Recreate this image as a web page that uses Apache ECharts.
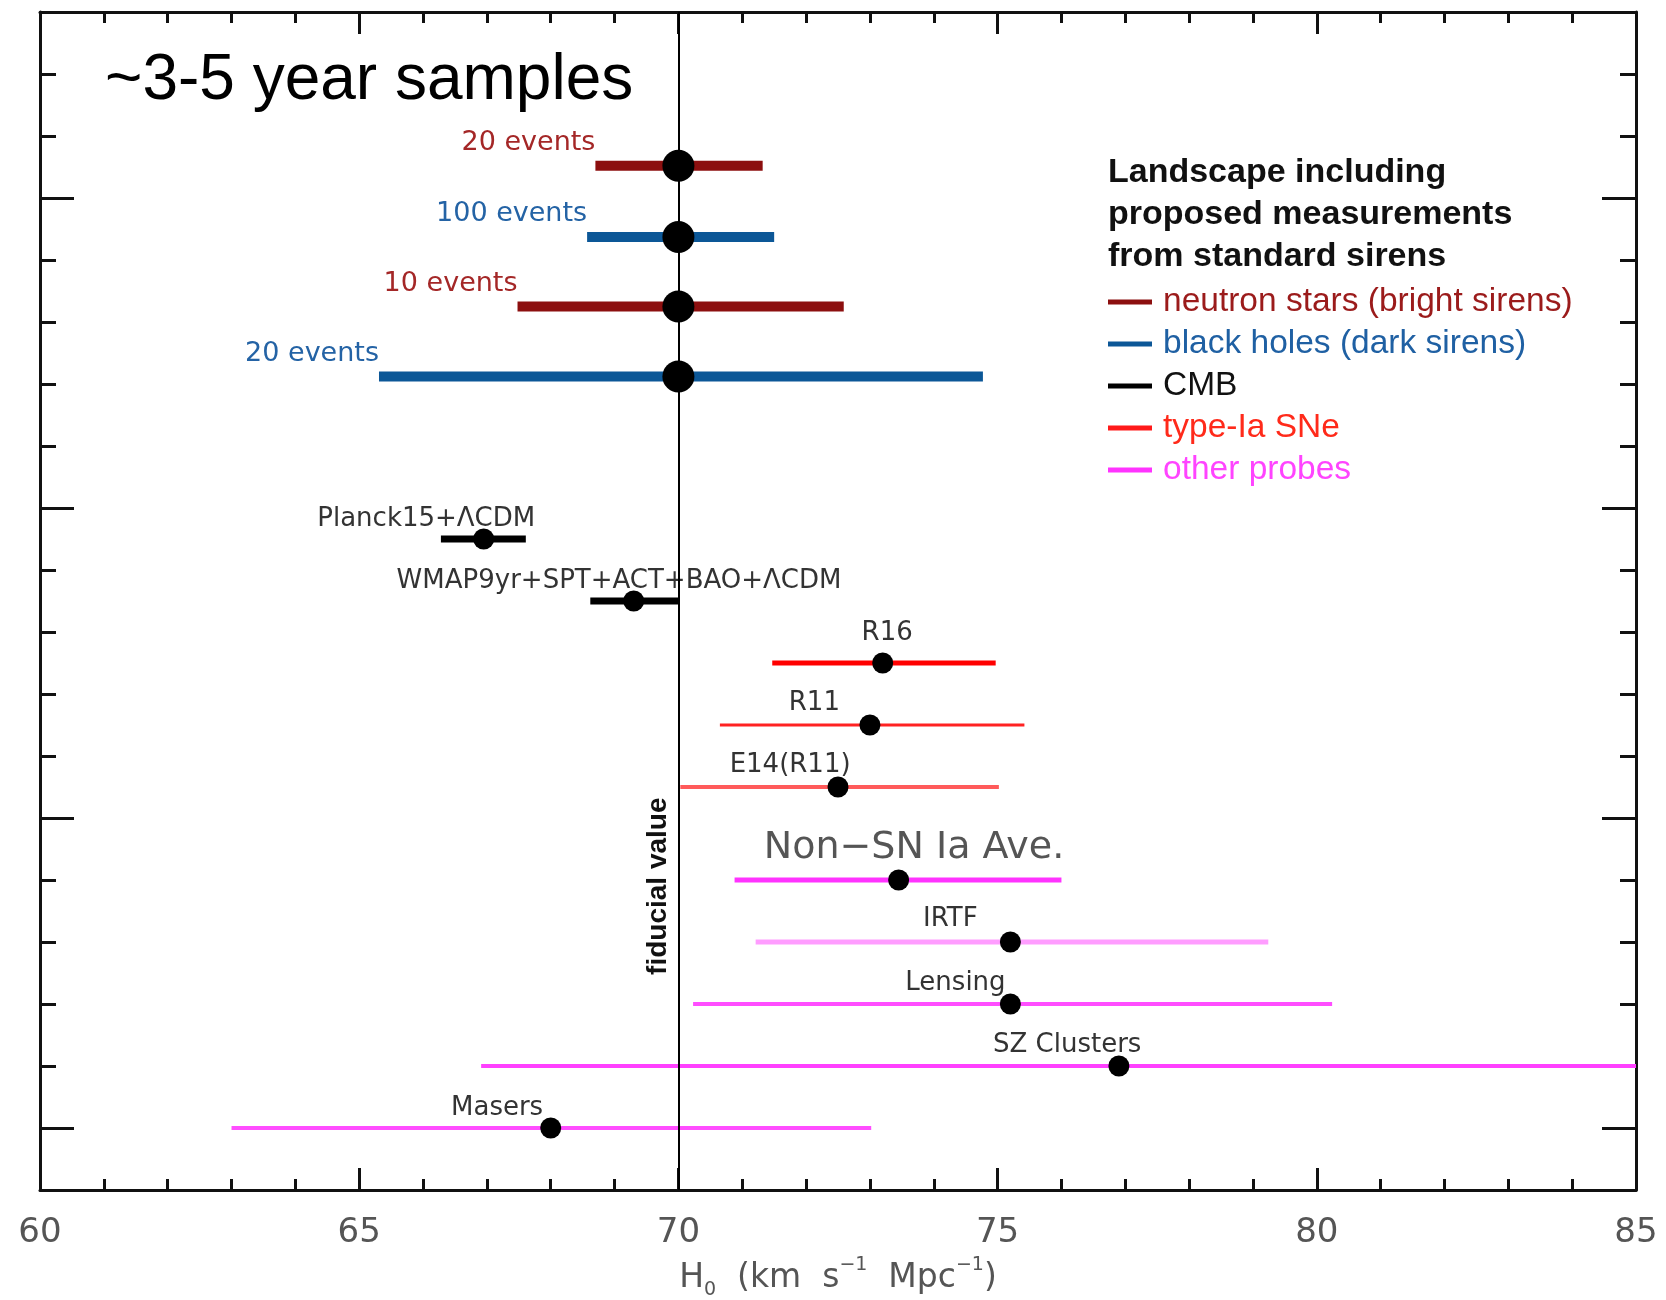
<!DOCTYPE html>
<html>
<head>
<meta charset="utf-8">
<title>H0 landscape</title>
<script src="https://cdn.jsdelivr.net/npm/echarts@6/dist/echarts.min.js"></script>
<style>
  html, body { margin: 0; padding: 0; background: #fff; }
  #chart { width: 1666px; height: 1300px; }
</style>
</head>
<body>
<div id="chart"></div>
<script>
// ---- data ----
const rowNames = ['20 events', '100 events', '10 events', '20 events',
  'Planck15+ΛCDM', 'WMAP9yr+SPT+ACT+BAO+ΛCDM', 'R16', 'R11', 'E14(R11)',
  'Non−SN Ia Ave.', 'IRTF', 'Lensing', 'SZ Clusters', 'Masers'];
const rowGroups = ['ns', 'bh', 'ns', 'bh', 'cmb', 'cmb', 'sn', 'sn', 'sn',
  'other', 'other', 'other', 'other', 'other'];
const rowY = [15.52, 14.37, 13.25, 12.12, 9.5, 8.5, 7.5, 6.5, 5.5, 4, 3, 2, 1, 0];
const centerH0 = [70, 70, 70, 70, 66.95, 69.3, 73.2, 73.0, 72.5, 73.45, 75.2, 75.2, 76.9, 68.0];
const lowH0 = [68.7, 68.57, 67.48, 65.31, 66.28, 68.62, 71.47, 70.65, 70.03, 70.88, 71.21, 70.23, 66.91, 63.0];
const highH0 = [71.32, 71.5, 72.59, 74.77, 67.61, 70.0, 74.97, 75.42, 75.02, 76.0, 79.24, 80.24, 86.9, 73.02];
// where each annotation is centred along the H0 axis (event labels sit at the bar's left end)
const labelH0 = [null, null, null, null, 66.05, 69.07, 73.27, 72.13, 71.75, 73.69, 74.26, 74.34, 76.09, 67.16];

const groupKeys = ['ns', 'bh', 'cmb', 'sn', 'other'];
const groupNames = ['neutron stars (bright sirens)', 'black holes (dark sirens)', 'CMB', 'type-Ia SNe', 'other probes'];
const xTickValues = [60, 65, 70, 75, 80, 85];
const fiducialH0 = 70;

// ---- styles ----
const groupColor = { ns: '#8c0f0f', bh: '#0c5797', cmb: '#000000', sn: '#ff1a1a', other: '#ff33ff' };
const legendTextColor = { ns: '#9b1b1b', bh: '#1f60a3', cmb: '#111111', sn: '#ff2a1a', other: '#ff44ff' };
const evLabel = (c) => ({ fill: c, size: 27, lift: 23 });
const rowStyle = [
  { stroke: '#8c0f0f', width: 10, dot: 32, ...evLabel('#a42727') },
  { stroke: '#0c5797', width: 10, dot: 32, ...evLabel('#2463a5') },
  { stroke: '#8c0f0f', width: 10, dot: 32, ...evLabel('#a42727') },
  { stroke: '#0c5797', width: 10, dot: 32, ...evLabel('#2463a5') },
  { stroke: '#000000', width: 7, dot: 21, fill: '#333', size: 26, lift: 20 },
  { stroke: '#000000', width: 7, dot: 21, fill: '#333', size: 26, lift: 20 },
  { stroke: '#ff0000', width: 5, dot: 21, fill: '#333', size: 26, lift: 30 },
  { stroke: '#ff2222', width: 3, dot: 21, fill: '#333', size: 26, lift: 22 },
  { stroke: '#ff5a5a', width: 4, dot: 21, fill: '#333', size: 26, lift: 22 },
  { stroke: '#ff33ff', width: 5, dot: 21, fill: '#555', size: 38, lift: 32 },
  { stroke: '#ff9dff', width: 5, dot: 21, fill: '#333', size: 26, lift: 23 },
  { stroke: '#ff4dff', width: 4, dot: 21, fill: '#333', size: 26, lift: 21 },
  { stroke: '#ff40ff', width: 4, dot: 21, fill: '#333', size: 26, lift: 21 },
  { stroke: '#ff4dff', width: 4, dot: 21, fill: '#333', size: 26, lift: 20 }
];

const axisColor = '#111';
const hersheyFont = '"DejaVu Sans"';

const renderRow = (params, api) => {
  const i = api.value(4);
  const y = api.value(2);
  const st = rowStyle[i];
  const p0 = api.coord([api.value(0), y]);
  const p1 = api.coord([api.value(1), y]);
  const pc = api.coord([api.value(3), y]);
  const isEvent = rowGroups[i] === 'ns' || rowGroups[i] === 'bh';
  const tx = isEvent ? p0[0] : api.coord([labelH0[i], y])[0];
  return {
    type: 'group',
    children: [
      { type: 'line', shape: { x1: p0[0], y1: p0[1], x2: p1[0], y2: p1[1] },
        style: { stroke: st.stroke, lineWidth: st.width }, z2: 1 },
      { type: 'circle', shape: { cx: pc[0], cy: pc[1], r: st.dot / 2 },
        style: { fill: '#000' }, z2: 2 },
      { type: 'text', x: tx, y: pc[1] - st.lift, z2: 3,
        style: { text: rowNames[i], fill: st.fill, fontSize: st.size, fontFamily: hersheyFont,
          align: isEvent ? 'right' : 'center', verticalAlign: 'middle' } }
    ]
  };
};

const seriesFor = (key, idx) => ({
  name: groupNames[idx],
  type: 'custom',
  xAxisIndex: 0,
  yAxisIndex: 0,
  clip: true,
  z: 3,
  itemStyle: { color: groupColor[key] },
  renderItem: renderRow,
  encode: { x: [0, 1, 3], y: 2 },
  data: rowNames.map((n, i) => i).filter(i => rowGroups[i] === key)
    .map(i => [lowH0[i], highH0[i], rowY[i], centerH0[i], i])
});

const xAxisBase = {
  type: 'value', min: 60, max: 85, interval: 5,
  axisLine: { show: true, onZero: false, lineStyle: { color: axisColor, width: 3 } },
  axisTick: { show: true, inside: true, length: 22, lineStyle: { color: axisColor, width: 3 } },
  minorTick: { show: true, splitNumber: 5, length: 11, lineStyle: { color: axisColor, width: 3 } },
  splitLine: { show: false },
  minorSplitLine: { show: false }
};

const yAxisBase = {
  type: 'value', min: -1, max: 18, interval: 1,
  axisLabel: { show: false },
  splitLine: { show: false }
};

const option = {
  backgroundColor: '#fff',
  animation: false,
  title: [
    { text: '~3-5 year samples', left: 100, top: 44,
      textStyle: { fontFamily: '"Liberation Sans"', fontSize: 64, fontWeight: 'normal', color: '#000', lineHeight: 64 } },
    { text: 'Landscape including\nproposed measurements\nfrom standard sirens', left: 1108, top: 152, padding: 0,
      textStyle: { fontFamily: '"Liberation Sans"', fontSize: 34, fontWeight: 'bold', color: '#111', lineHeight: 42 } }
  ],
  legend: {
    orient: 'vertical', left: 1108, top: 285, padding: 0,
    itemWidth: 44, itemHeight: 5, itemGap: 8,
    selectedMode: false,
    data: groupKeys.map((k, i) => ({
      name: groupNames[i], icon: 'rect',
      itemStyle: { color: groupColor[k] },
      textStyle: { color: legendTextColor[k] }
    })),
    textStyle: { fontFamily: '"Liberation Sans"', fontSize: 33.5, lineHeight: 34, padding: [0, 0, 0, 6] }
  },
  grid: { left: 40, right: 30, top: 12, bottom: 110, containLabel: false, outerBoundsMode: 'none' },
  xAxis: [
    { ...xAxisBase, position: 'bottom',
      axisLabel: { show: true, margin: 26, color: '#555', fontFamily: hersheyFont, fontSize: 34,
        customValues: xTickValues },
      name: '{a|H}{sub|0}{a|  (km  s}{sup|−1}{a|  Mpc}{sup|−1}{a|)}',
      nameLocation: 'middle', nameGap: 66,
      nameTextStyle: {
        rich: {
          a: { fontFamily: hersheyFont, fontSize: 33, color: '#555', lineHeight: 44, verticalAlign: 'middle' },
          sub: { fontFamily: hersheyFont, fontSize: 19, color: '#555', lineHeight: 44, verticalAlign: 'bottom' },
          sup: { fontFamily: hersheyFont, fontSize: 19, color: '#555', lineHeight: 44, verticalAlign: 'top' }
        }
      } },
    { ...xAxisBase, position: 'top', axisLabel: { show: false } }
  ],
  yAxis: [
    { ...yAxisBase, position: 'left',
      axisLine: { show: true, onZero: false, lineStyle: { color: axisColor, width: 3 } },
      axisTick: { show: true, inside: true, length: 16, lineStyle: { color: axisColor, width: 3 } } },
    { ...yAxisBase, position: 'left',
      axisLine: { show: false },
      axisTick: { show: true, inside: true, length: 34, customValues: [0, 5, 10, 15], lineStyle: { color: axisColor, width: 3 } } },
    { ...yAxisBase, position: 'right',
      axisLine: { show: true, onZero: false, lineStyle: { color: axisColor, width: 3 } },
      axisTick: { show: true, inside: true, length: 16, lineStyle: { color: axisColor, width: 3 } } },
    { ...yAxisBase, position: 'right',
      axisLine: { show: false },
      axisTick: { show: true, inside: true, length: 34, customValues: [0, 5, 10, 15], lineStyle: { color: axisColor, width: 3 } } }
  ],
  series: [
    {
      name: 'fiducial', type: 'line', data: [], xAxisIndex: 0, yAxisIndex: 0, z: 1,
      markLine: {
        silent: true, symbol: 'none', animation: false,
        label: { show: false },
        lineStyle: { color: '#000', width: 2, type: 'solid' },
        data: [{ xAxis: fiducialH0 }]
      }
    },
    ...groupKeys.map(seriesFor)
  ]
};

const chart = echarts.init(document.getElementById('chart'));
chart.setOption(option);

// rotated "fiducial value" note beside the vertical line
const fx = chart.convertToPixel({ xAxisIndex: 0 }, fiducialH0);
const fy = chart.convertToPixel({ yAxisIndex: 0 }, 3.9);
chart.setOption({
  graphic: [{
    type: 'text', x: fx - 20, y: fy, rotation: Math.PI / 2,
    style: { text: 'fiducial value', fill: '#111', fontSize: 28, fontWeight: 'bold',
      fontFamily: '"Liberation Sans"', align: 'center', verticalAlign: 'middle' }
  }]
});
</script>
</body>
</html>
